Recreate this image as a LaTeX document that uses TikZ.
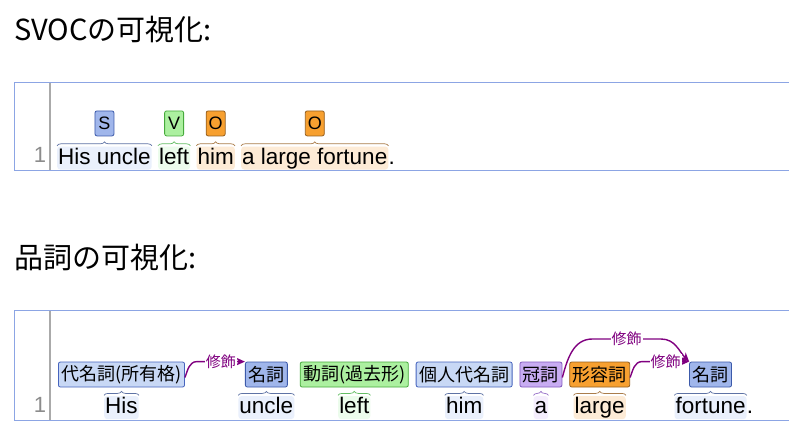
\documentclass[tikz,border=0pt]{standalone}
\usepackage{fontspec}
\setmainfont{Liberation Sans}
\newfontfamily\jpfont{Noto Sans CJK JP}
\usetikzlibrary{positioning,decorations.pathreplacing,arrows.meta}

\definecolor{framecol}{RGB}{140,165,228}
\definecolor{guttercol}{RGB}{170,170,170}
\definecolor{lnumcol}{RGB}{140,140,140}
\definecolor{modcol}{RGB}{128,0,128}
% tag fills and borders
\definecolor{nounfill}{RGB}{160,182,235}
\definecolor{noundraw}{RGB}{60,90,170}
\definecolor{pronfill}{RGB}{200,216,245}
\definecolor{prondraw}{RGB}{70,100,190}
\definecolor{verbfill}{RGB}{172,240,160}
\definecolor{verbdraw}{RGB}{70,170,60}
\definecolor{objfill}{RGB}{247,160,48}
\definecolor{objdraw}{RGB}{150,95,30}
\definecolor{artfill}{RGB}{200,172,242}
\definecolor{artdraw}{RGB}{130,90,190}
% word highlights
\definecolor{hlblue}{RGB}{234,240,252}
\definecolor{hlgreen}{RGB}{236,252,236}
\definecolor{hlorange}{RGB}{253,235,214}
\definecolor{hlpurple}{RGB}{245,238,253}
% braces
\definecolor{brblue}{RGB}{95,115,165}
\definecolor{brgreen}{RGB}{100,190,100}
\definecolor{brbrown}{RGB}{170,125,75}
\definecolor{brpurple}{RGB}{150,110,200}

\tikzset{
  heading/.style={anchor=base west, inner sep=0pt, font=\jpfont\fontsize{29}{34}\selectfont},
  frame/.style={draw=framecol, line width=1pt},
  gutter/.style={draw=guttercol, line width=2pt},
  lineno/.style={anchor=base, inner sep=0pt, text=lnumcol, font=\fontsize{22}{26}\selectfont},
  word/.style={inner xsep=1pt, inner ysep=1pt, text height=16.5pt, text depth=4.5pt,
    rounded corners=3pt, font=\fontsize{22.5}{26}\selectfont},
  role/.style={draw, rounded corners=2pt, minimum width=19pt, minimum height=25pt,
    inner sep=0pt, line width=0.8pt, font=\fontsize{18}{20}\selectfont},
  postag/.style={draw, rounded corners=2pt, minimum height=25pt, inner xsep=3pt,
    inner ysep=0pt, line width=0.8pt, font=\jpfont\fontsize{18}{20}\selectfont},
  over/.style={decorate, decoration={brace, amplitude=4pt}, line width=0.7pt},
  modarrow/.style={draw=modcol, line width=1.4pt, -{Stealth[length=9pt,width=8pt]}},
  modlabel/.style={fill=white, text=modcol, inner sep=1pt, font=\jpfont\fontsize{15}{17}\selectfont}
}

\begin{document}
\begin{tikzpicture}[x=1pt, y=-1pt]
	\clip (0,0) rectangle (789,434);
	\fill[white] (0,0) rectangle (789,434);

	% SVOC
	\node[heading] (h1) at (14,40) {SVOCの可視化:};
	\draw[frame] (14,82) rectangle (800,170);
	\draw[gutter] (50,83) -- (50,170);
	\node[lineno] (n1) at (40,162) {1};

	% sentence
	\node[word, fill=hlblue, anchor=base west] (s1) at (57,164) {His uncle};
	\node[word, fill=hlgreen, base right=6pt of s1] (s2) {left};
	\node[word, fill=hlorange, base right=6pt of s2] (s3) {him};
	\node[word, fill=hlorange, base right=6pt of s3] (s4) {a large fortune};
	\node[word, inner xsep=0pt, base right=0pt of s4] (s5) {.};

	\foreach \w/\c in {s1/brblue, s2/brgreen, s3/brbrown, s4/brbrown}
		\draw[over, draw=\c] ([yshift=0.5pt]\w.north west) -- ([yshift=0.5pt]\w.north east);

	\node[role, fill=nounfill, draw=noundraw, above=10pt of s1] (r1) {S};
	\node[role, fill=verbfill, draw=verbdraw, above=10pt of s2] (r2) {V};
	\node[role, fill=objfill, draw=objdraw, above=10pt of s3] (r3) {O};
	\node[role, fill=objfill, draw=objdraw, above=10pt of s4] (r4) {O};

	% parts of speech
	\node[heading] (h2) at (14,268) {品詞の可視化:};
	\draw[frame] (14,310) rectangle (800,420);
	\draw[gutter] (50,311) -- (50,420);
	\node[lineno] (n2) at (40,412) {1};

	\node[postag, fill=pronfill, draw=prondraw, anchor=west] (t1) at (58,374.5) {代名詞(所有格)};
	\node[postag, fill=nounfill, draw=noundraw, right=60pt of t1] (t2) {名詞};
	\node[postag, fill=verbfill, draw=verbdraw, right=12pt of t2] (t3) {動詞(過去形)};
	\node[postag, fill=pronfill, draw=prondraw, right=7pt of t3] (t4) {個人代名詞};
	\node[postag, fill=artfill, draw=artdraw, right=7pt of t4] (t5) {冠詞};
	\node[postag, fill=objfill, draw=objdraw, right=7pt of t5] (t6) {形容詞};
	\node[postag, fill=nounfill, draw=noundraw, right=59pt of t6] (t7) {名詞};

	\node[word, fill=hlblue, below=8.5pt of t1] (w1) {His};
	\node[word, fill=hlblue, below=8.5pt of t2] (w2) {uncle};
	\node[word, fill=hlgreen, below=8.5pt of t3] (w3) {left};
	\node[word, fill=hlblue, below=8.5pt of t4] (w4) {him};
	\node[word, fill=hlpurple, below=8.5pt of t5] (w5) {a};
	\node[word, fill=hlorange, below=8.5pt of t6] (w6) {large};
	\node[word, fill=hlblue, below=8.5pt of t7] (w7) {fortune};
	\node[word, inner xsep=0pt, base right=0pt of w7] (w8) {.};

	\foreach \w/\c in {w1/brblue, w2/brblue, w3/brgreen, w4/brblue, w5/brpurple, w6/brbrown, w7/brblue}
		\draw[over, draw=\c] ([yshift=0.5pt]\w.north west) -- ([yshift=0.5pt]\w.north east);

	% modifiers
	\draw[modarrow] ([yshift=-3pt]t1.east) to[out=70, in=180] ([xshift=12pt]t1.east |- t2.north)
		-- node[modlabel] {修飾} (t2.north west);
	\draw[modarrow] ([yshift=-3pt]t5.east) to[out=75, in=180] ([xshift=30pt]t5.east |- 0,339)
		-- node[modlabel] {修飾} ([xshift=-28pt]t7.north west |- 0,339)
		to[out=0, in=135] (t7.north west);
	\draw[modarrow] ([yshift=-3pt]t6.east) to[out=70, in=180] ([xshift=12pt]t6.east |- t7.north)
		-- node[modlabel] {修飾} (t7.north west);
\end{tikzpicture}
\end{document}
